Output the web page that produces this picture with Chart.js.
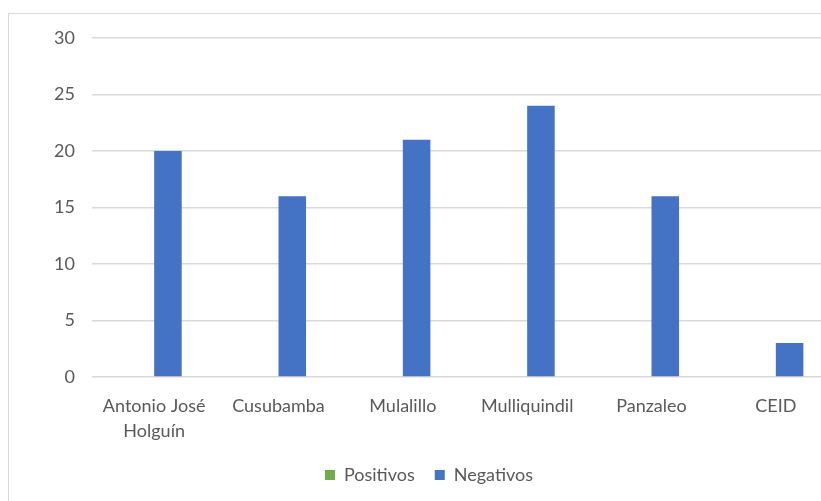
<!DOCTYPE html>
<html>
<head>
<meta charset="utf-8">
<script src="https://cdn.jsdelivr.net/npm/chart.js@4.4.0/dist/chart.umd.min.js"></script>
<style>
  html, body { margin: 0; padding: 0; background: #fff; overflow: hidden; width: 821px; height: 501px; }
  #frame { position: absolute; left: 8px; top: 13px; width: 900px; height: 600px; border: 1.5px solid #d9d9d9; box-sizing: border-box; }
  #wrap { position: absolute; left: 0; top: 0; width: 850px; height: 501px; }
</style>
</head>
<body>
<div id="frame"></div>
<div id="wrap"><canvas id="bar-chart"></canvas></div>
<script>
var categories = [['Antonio José', 'Holguín'], 'Cusubamba', 'Mulalillo', 'Mulliquindil', 'Panzaleo', 'CEID'];
var positivos = [0, 0, 0, 0, 0, 0];
var negativos = [20, 16, 21, 24, 16, 3];
var yTicks = [0, 5, 10, 15, 20, 25, 30];

var fontFam = "Lato, 'Open Sans', sans-serif";
var textColor = '#595959';

var ctx = document.getElementById('bar-chart').getContext('2d');
var myChart = new Chart(ctx, {
    type: 'bar',
    data: {
        labels: categories,
        datasets: [{
            label: 'Positivos',
            data: positivos,
            backgroundColor: '#70AD47',
            categoryPercentage: 0.443,
            barPercentage: 1
        }, {
            label: 'Negativos',
            data: negativos,
            backgroundColor: '#4472C4',
            categoryPercentage: 0.443,
            barPercentage: 1
        }]
    },
    options: {
        responsive: true,
        maintainAspectRatio: false,
        animation: false,
        layout: {
            padding: { left: 20, right: 12, top: 38, bottom: 7 }
        },
        plugins: {
            legend: {
                position: 'bottom',
                labels: {
                    boxWidth: 10,
                    boxHeight: 10,
                    color: textColor,
                    font: { family: fontFam, size: 18 },
                    padding: 20
                }
            },
            tooltip: { enabled: false }
        },
        scales: {
            x: {
                grid: { display: false },
                border: { display: false },
                ticks: {
                    color: textColor,
                    font: { family: fontFam, size: 18, lineHeight: 1.38 },
                    maxRotation: 0,
                    autoSkip: false,
                    padding: 9
                },
                afterFit: function(scale) { scale.height = 69; }
            },
            y: {
                min: 0,
                max: 30,
                afterBuildTicks: function(scale) {
                    scale.ticks = yTicks.map(function(v) { return { value: v }; });
                },
                grid: { color: '#d9d9d9', lineWidth: 1.5, drawTicks: false },
                border: { display: false },
                ticks: {
                    color: textColor,
                    font: { family: fontFam, size: 18 },
                    padding: 17
                },
                afterFit: function(scale) { scale.width = 72; }
            }
        }
    }
});
</script>
</body>
</html>
